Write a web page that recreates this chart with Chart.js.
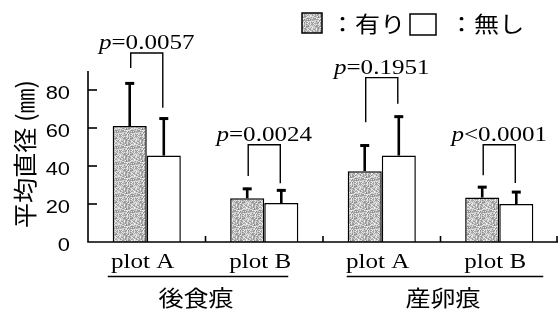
<!DOCTYPE html>
<html>
<head>
<meta charset="utf-8">
<script src="https://cdn.jsdelivr.net/npm/chart.js@4"></script>
<style>
html,body{margin:0;padding:0;background:#fff;}
#wrap{width:558px;height:311px;position:relative;}
</style>
</head>
<body>
<div id="wrap"><canvas id="c"></canvas></div>
<script>
// ---- data ----
const categories = ['plot A', 'plot B', 'plot A', 'plot B'];
const groups = ['後食痕', '産卵痕'];
const seriesNames = ['有り', '無し'];
const withMean = [61, 23, 37.3, 23.4];
const withSD = [23, 5.5, 14, 6];
const withoutMean = [45.5, 20.5, 45.5, 20];
const withoutSD = [20, 7.2, 21, 6.8];
const pLabels = ['=0.0057', '=0.0024', '=0.1951', '<0.0001'];
const bracketTop = [99.5, 51.2, 86.5, 51.2];
const bracketLeftEnd = [91.6, 34.7, 63, 35.1];
const bracketRightEnd = [70.7, 30.9, 72.8, 31];
const yTicks = [0, 20, 40, 60, 80];
const yTitle = '平均直径 (㎜)';

// ---- layout constants ----
const underlineOffsets = [[-39, 24], [-35, 44]];

// stipple pattern
function makePattern(ctx) {
  const pc = document.createElement('canvas');
  pc.width = 16; pc.height = 16;
  const p = pc.getContext('2d');
  let s = 12345;
  const img = p.createImageData(16, 16);
  for (let i = 0; i < 256; i++) {
    s = (s * 1103515245 + 12345) & 0x7fffffff;
    const v = 135 + ((s >> 8) % 110);
    img.data[i*4] = v; img.data[i*4+1] = v; img.data[i*4+2] = v; img.data[i*4+3] = 255;
  }
  p.putImageData(img, 0, 0);
  return ctx.createPattern(pc, 'repeat');
}

const canvas = document.getElementById('c');
const ctx0 = canvas.getContext('2d');
const shade = makePattern(ctx0);

function txt(ctx, s, x, y, font, align, sx, baseline) {
  ctx.save();
  ctx.font = font;
  ctx.textBaseline = baseline || 'alphabetic';
  ctx.textAlign = 'left';
  const w = ctx.measureText(s).width * sx;
  const x0 = align === 'center' ? x - w / 2 : align === 'right' ? x - w : x;
  ctx.translate(x0, y);
  ctx.scale(sx, 1);
  ctx.fillStyle = '#000';
  ctx.fillText(s, 0, 0);
  ctx.restore();
  return w;
}

const SERIF = '22px "Liberation Serif", "Times New Roman", serif';
const SERIF_I = 'italic 22px "Liberation Serif", "Times New Roman", serif';
const SANS = '19px "Liberation Sans", Arial, sans-serif';
const CJK = '22px "Noto Sans CJK JP", sans-serif';
const CJK_T = '24px "Noto Sans CJK JP", sans-serif';
const SX = 1.14;

const decor = {
  id: 'decor',
  afterDraw(chart) {
    const ctx = chart.ctx;
    const x = chart.scales.x, y = chart.scales.y;
    const ca = chart.chartArea;
    const m0 = chart.getDatasetMeta(0), m1 = chart.getDatasetMeta(1);
    ctx.save();
    ctx.strokeStyle = '#000';
    ctx.fillStyle = '#000';
    // axes
    ctx.lineWidth = 1.6;
    ctx.beginPath();
    ctx.moveTo(ca.left, y.getPixelForValue(y.max));
    ctx.lineTo(ca.left, y.getPixelForValue(0));
    ctx.lineTo(ca.right, y.getPixelForValue(0));
    ctx.stroke();
    // y ticks
    yTicks.forEach(v => {
      const py = y.getPixelForValue(v);
      if (v > 0) {
        ctx.beginPath(); ctx.moveTo(ca.left, py); ctx.lineTo(ca.left + 9, py); ctx.stroke();
      }
      txt(ctx, String(v), ca.left - 18, py + 3.5, SANS, 'right', 1.15, 'middle');
    });
    // x boundary ticks
    const y0 = y.getPixelForValue(0);
    for (let i = 1; i <= categories.length; i++) {
      const bx = i < categories.length ? (x.getPixelForValue(i - 1) + x.getPixelForValue(i)) / 2 : ca.right - 1;
      ctx.beginPath(); ctx.moveTo(bx, y0); ctx.lineTo(bx, y0 - 6); ctx.stroke();
    }
    // error bars
    const drawErr = (bx, mean, sd) => {
      const pt = y.getPixelForValue(mean), pe = y.getPixelForValue(mean + sd);
      ctx.lineWidth = 2.6;
      ctx.beginPath(); ctx.moveTo(bx, pt); ctx.lineTo(bx, pe); ctx.stroke();
      ctx.lineWidth = 3;
      ctx.beginPath(); ctx.moveTo(bx - 4.5, pe + 1); ctx.lineTo(bx + 4.5, pe + 1); ctx.stroke();
    };
    categories.forEach((c, i) => {
      drawErr(m0.data[i].x, withMean[i], withSD[i]);
      drawErr(m1.data[i].x, withoutMean[i], withoutSD[i]);
    });
    // brackets and p labels
    ctx.lineWidth = 1.4;
    categories.forEach((c, i) => {
      const lx = m0.data[i].x + 1, rx = m1.data[i].x - 1;
      const ty = y.getPixelForValue(bracketTop[i]);
      ctx.beginPath();
      ctx.moveTo(lx, y.getPixelForValue(bracketLeftEnd[i]));
      ctx.lineTo(lx, ty);
      ctx.lineTo(rx, ty);
      ctx.lineTo(rx, y.getPixelForValue(bracketRightEnd[i]));
      ctx.stroke();
      ctx.font = SERIF_I; const w1 = ctx.measureText('p').width * SX;
      ctx.font = SERIF; const w2 = ctx.measureText(pLabels[i]).width * SX;
      const cx = (lx + rx) / 2;
      const sx0 = cx - (w1 + w2) / 2;
      txt(ctx, 'p', sx0, ty - 4, SERIF_I, 'left', SX);
      txt(ctx, pLabels[i], sx0 + w1, ty - 4, SERIF, 'left', SX);
    });
    // category labels
    categories.forEach((c, i) => {
      txt(ctx, c, x.getPixelForValue(i) - 4, 268, SERIF, 'center', SX);
    });
    // group underlines and labels
    groups.forEach((g, gi) => {
      const a = x.getPixelForValue(gi * 2) + underlineOffsets[gi][0];
      const b = x.getPixelForValue(gi * 2 + 1) + underlineOffsets[gi][1];
      ctx.lineWidth = 1.6;
      ctx.beginPath(); ctx.moveTo(a, 276.5); ctx.lineTo(b, 276.5); ctx.stroke();
      txt(ctx, g, (a + b) / 2 - 2, 298, CJK, 'center', SX, 'middle');
    });
    // legend
    ctx.lineWidth = 1.5;
    ctx.fillStyle = shade;
    ctx.fillRect(302, 13, 20, 20);
    ctx.strokeRect(302, 13, 20, 20);
    txt(ctx, '：' + seriesNames[0], 330, 24, CJK, 'left', SX, 'middle');
    ctx.fillStyle = '#fff';
    ctx.fillRect(410, 14, 26, 21);
    ctx.strokeRect(410, 14, 26, 21);
    txt(ctx, '：' + seriesNames[1], 449, 24, CJK, 'left', SX, 'middle');
    // y title
    ctx.save();
    ctx.translate(25, 154);
    ctx.rotate(-Math.PI / 2);
    ctx.font = CJK_T;
    const tw = ctx.measureText(yTitle).width;
    txt(ctx, yTitle, 0, 0, CJK_T, 'center', 148 / tw, 'middle');
    ctx.restore();
    ctx.restore();
  }
};

new Chart(canvas, {
  type: 'bar',
  data: {
    labels: categories,
    datasets: [
      { label: seriesNames[0], data: withMean, backgroundColor: shade, borderColor: '#000', borderWidth: 1.5 },
      { label: seriesNames[1], data: withoutMean, backgroundColor: '#fff', borderColor: '#000', borderWidth: 1.5 }
    ]
  },
  options: {
    responsive: true,
    maintainAspectRatio: false,
    animation: false,
    layout: { padding: { left: 88, right: 0, top: 71, bottom: 69 } },
    categoryPercentage: 0.58,
    barPercentage: 1.0,
    plugins: { legend: { display: false }, tooltip: { enabled: false } },
    scales: {
      x: { display: false },
      y: { display: false, min: 0, max: 90 }
    }
  },
  plugins: [decor]
});
</script>
</body>
</html>
